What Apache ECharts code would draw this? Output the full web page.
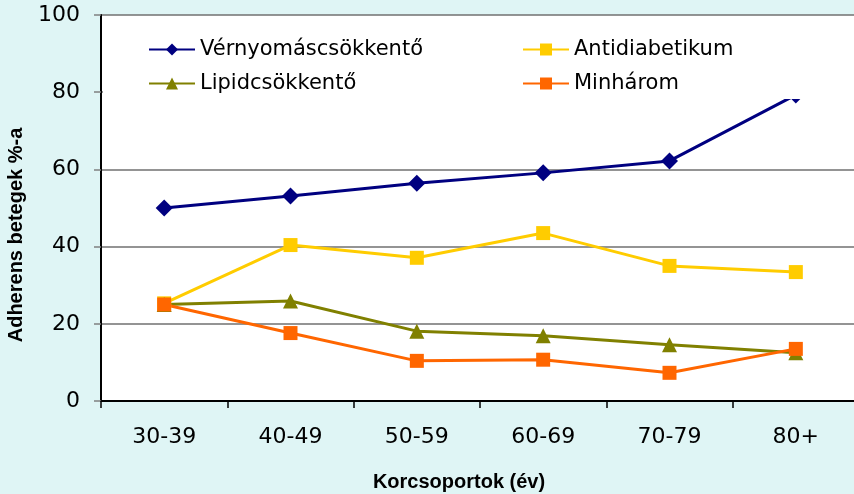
<!DOCTYPE html>
<html>
<head>
<meta charset="utf-8">
<script src="https://cdn.jsdelivr.net/npm/echarts@6/dist/echarts.min.js"></script>
<style>
  html, body { margin: 0; padding: 0; background: #dff5f5; }
  #chart { width: 854px; height: 494px; }
</style>
</head>
<body>
<div id="chart"></div>
<script>
// korcsoportok
const categories = ['30-39', '40-49', '50-59', '60-69', '70-79', '80+'];
const vernyomas = [50, 53.1, 56.4, 59.1, 62.2, 79.3];
const antidiab = [25.3, 40.4, 37.1, 43.5, 35.0, 33.4];
const lipid = [25.0, 25.9, 18.1, 16.9, 14.6, 12.5];
const minharom = [25.0, 17.6, 10.4, 10.7, 7.3, 13.5];
const yTicks = [0, 20, 40, 60, 80, 100];

const font = 'DejaVu Sans';

let chart = echarts.init(document.getElementById('chart'));

function legendItem(name, left, top) {
  return {
    data: [name], left: left, top: top, orient: 'horizontal', z: 60,
    itemWidth: 46, itemHeight: 15, itemGap: 6, padding: 0,
    textStyle: { fontFamily: font, fontSize: 21, color: '#000' }
  };
}

function line(name, data, color, symbol, size) {
  return {
    name: name, type: 'line', data: data,
    symbol: symbol, symbolSize: size,
    lineStyle: { color: color, width: 3 },
    itemStyle: { color: color },
    emphasis: { disabled: true }
  };
}

chart.setOption({
  backgroundColor: '#dff5f5',
  animation: false,
  grid: {
    left: 101, right: -5, top: 15, bottom: 93, outerBoundsMode: 'none',
    show: true, backgroundColor: '#fff', borderWidth: 0
  },
  // fehér jelmagyarázat-doboz
  graphic: [{
    type: 'rect', z: 50,
    shape: { x: 103, y: 20, width: 760, height: 79 },
    style: { fill: '#fff' }
  }],
  legend: [
    legendItem('Vérnyomáscsökkentő', 148, 39),
    legendItem('Antidiabetikum', 522, 39),
    legendItem('Lipidcsökkentő', 148, 73),
    legendItem('Minhárom', 522, 73)
  ],
  xAxis: {
    type: 'category', data: categories, boundaryGap: true,
    name: 'Korcsoportok (év)', nameLocation: 'middle', nameGap: 71,
    nameTextStyle: { fontFamily: 'Liberation Sans', fontWeight: 'bold', fontSize: 20, color: '#000', padding: [0, 42, 0, 0] },
    axisLine: { lineStyle: { color: '#000', width: 2 } },
    axisTick: { show: true, length: 7, lineStyle: { color: '#000', width: 1.5 } },
    axisLabel: { fontFamily: font, fontSize: 22, color: '#000', margin: 25 },
    splitLine: { show: false }
  },
  yAxis: {
    type: 'value', min: 0, max: 100, interval: 20,
    name: 'Adherens betegek %-a', nameLocation: 'middle', nameGap: 75, nameRotate: 90,
    nameTextStyle: { fontFamily: 'Liberation Sans', fontWeight: 'bold', fontSize: 20, color: '#000', padding: [0, 54, 0, 0] },
    axisLine: { show: true, lineStyle: { color: '#000', width: 2 } },
    axisTick: { show: true, length: 7, lineStyle: { color: '#808080', width: 1.5 } },
    axisLabel: {
      fontFamily: font, fontSize: 22, color: '#000', margin: 21,
      formatter: v => yTicks.includes(v) ? String(v) : ''
    },
    splitLine: { show: true, lineStyle: { color: '#707070', width: 1.5 } }
  },
  series: [
    line('Vérnyomáscsökkentő', vernyomas, '#000080', 'diamond', 17),
    line('Antidiabetikum', antidiab, '#ffcc00', 'rect', 14),
    line('Lipidcsökkentő', lipid, '#808000', 'triangle', 15),
    line('Minhárom', minharom, '#ff6600', 'rect', 14)
  ]
});
</script>
</body>
</html>
